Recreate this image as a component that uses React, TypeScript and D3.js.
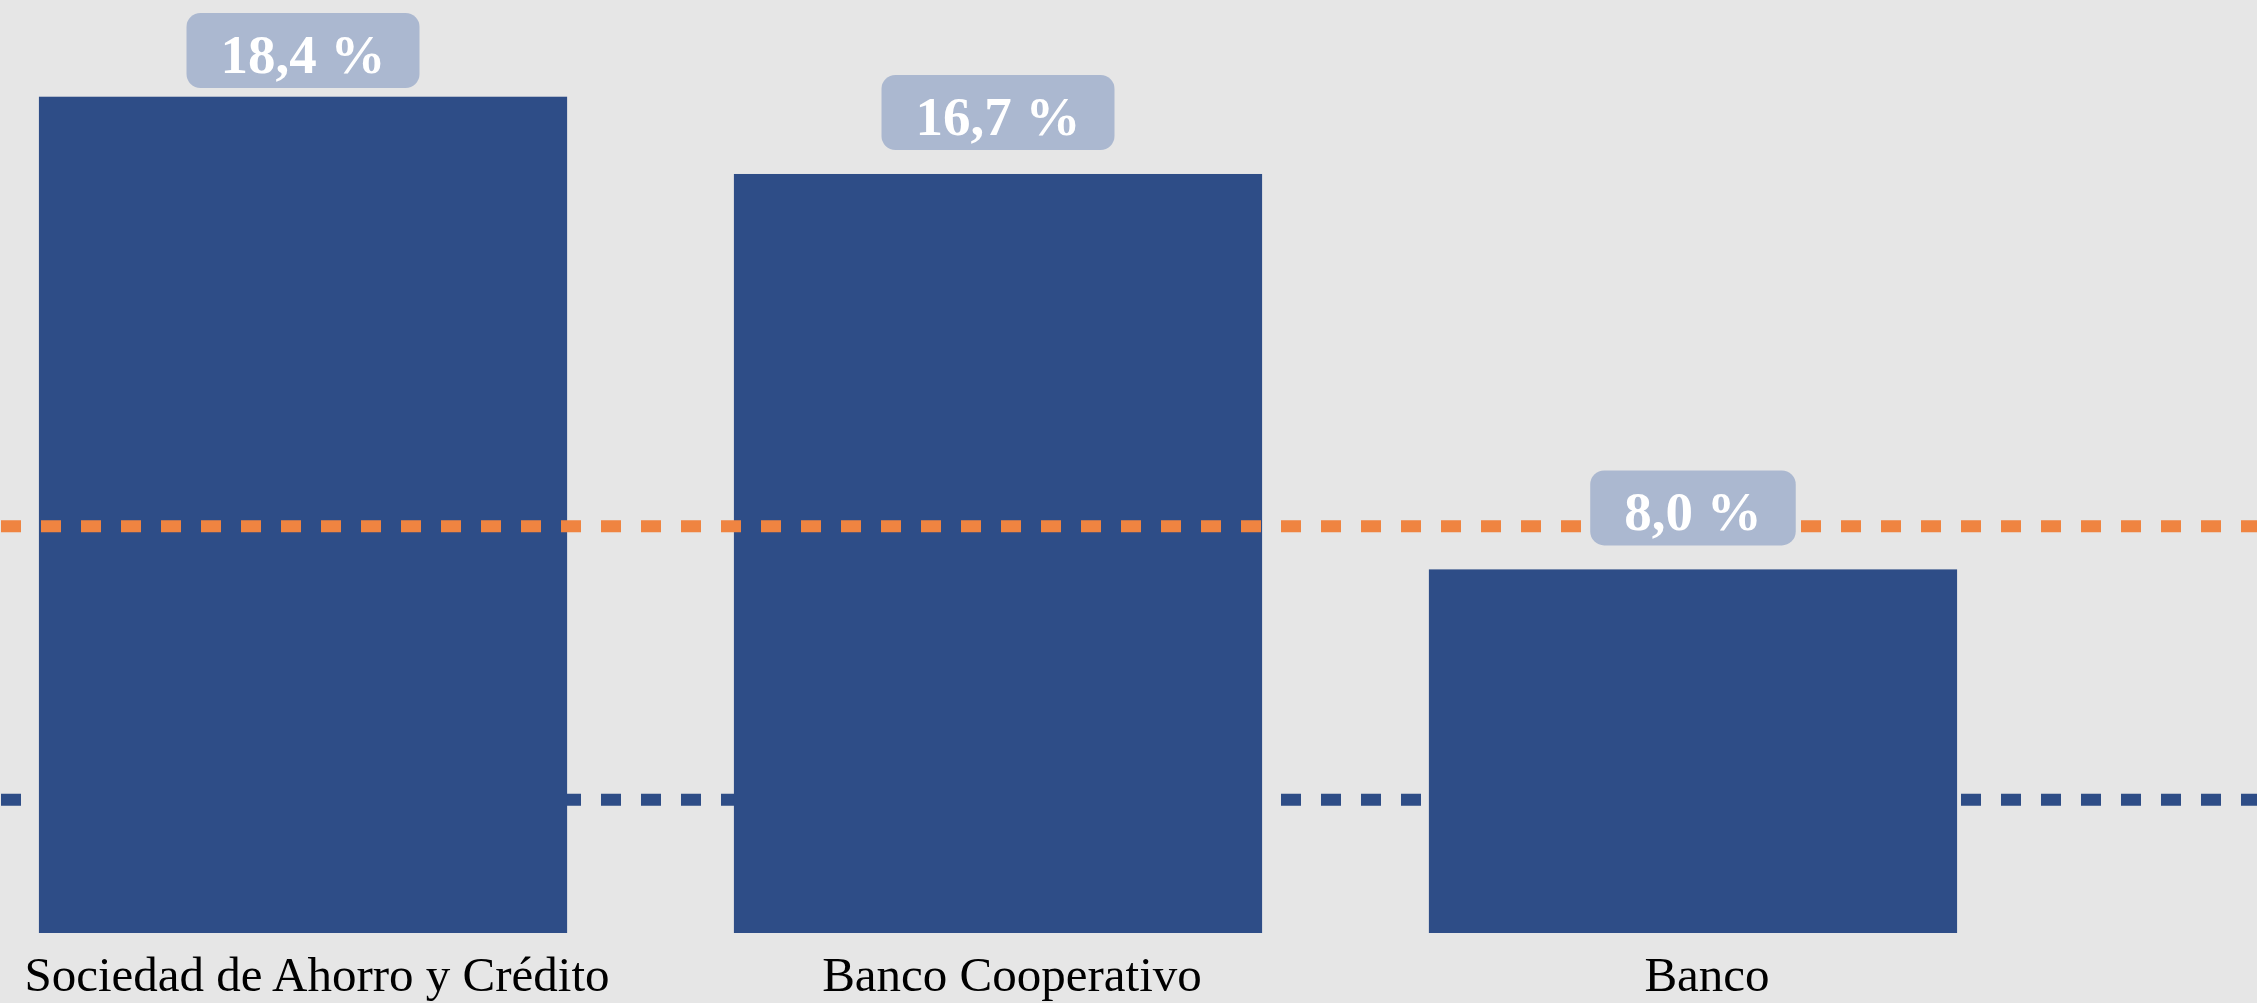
import { useEffect } from 'react';
import * as d3 from 'd3';

// Chart data
const categories = ['Sociedad de Ahorro y Crédito', 'Banco Cooperativo', 'Banco'];
const values = [18.4, 16.7, 8.0];
const orangeRef = 8.95;
const blueRef = 2.93;

const width = 2257;
const height = 1003;
const barColor = '#2E4D87';
const orange = '#EF8441';
const boxColor = '#ABB8D0';
const bg = '#E6E6E6';
const serif = "'Liberation Serif', 'Times New Roman', serif";

const fmt = (v: number) => v.toFixed(1).replace('.', ',') + ' %';

function measure(text: string, font: string) {
  const ctx = document.createElement('canvas').getContext('2d');
  if (!ctx) return text.length * 27;
  ctx.font = font;
  return ctx.measureText(text).width;
}

export default function App() {
  useEffect(() => {
    document.body.style.margin = '0';
  }, []);

  const x = d3.scaleBand<string>()
    .domain(categories)
    .range([0, 1996])
    .paddingInner(0.24)
    .paddingOuter(0.056);

  const y = d3.scaleLinear()
    .domain([0, 20])
    .range([933, 24]);

  const labelFont = `bold 55px ${serif}`;

  return (
    <svg width={width} height={height} style={{ display: 'block', background: bg }}>
      <rect x={0} y={0} width={width} height={height} fill={bg} />

      {/* lower reference line, behind the bars */}
      <line x1={0} x2={width} y1={y(blueRef)} y2={y(blueRef)}
        stroke={barColor} strokeWidth={12} strokeDasharray="20 20" strokeDashoffset={-1} />

      {categories.map((c, i) => (
        <rect key={c} x={x(c)} y={y(values[i])} width={x.bandwidth()}
          height={y(0) - y(values[i])} fill={barColor} />
      ))}

      {/* upper reference line */}
      <line x1={0} x2={width} y1={y(orangeRef)} y2={y(orangeRef)}
        stroke={orange} strokeWidth={12} strokeDasharray="20 20" strokeDashoffset={-1} />

      {categories.map((c, i) => {
        const label = fmt(values[i]);
        const w = measure(label, labelFont) + 68;
        const cx = (x(c) || 0) + x.bandwidth() / 2;
        const top = Math.max(13, y(values[i]) - 24 - 75);
        return (
          <g key={c}>
            <rect x={cx - w / 2} y={top} width={w} height={75} rx={14} fill={boxColor} />
            <text x={cx} y={top + 60} textAnchor="middle" fill="#fff"
              fontFamily={serif} fontWeight={700} fontSize={55}>
              {label}
            </text>
          </g>
        );
      })}

      {categories.map(c => (
        <text key={c} x={(x(c) || 0) + x.bandwidth() / 2 + 14} y={991}
          textAnchor="middle" fill="#000" fontFamily={serif} fontSize={49}>
          {c}
        </text>
      ))}
    </svg>
  );
}
